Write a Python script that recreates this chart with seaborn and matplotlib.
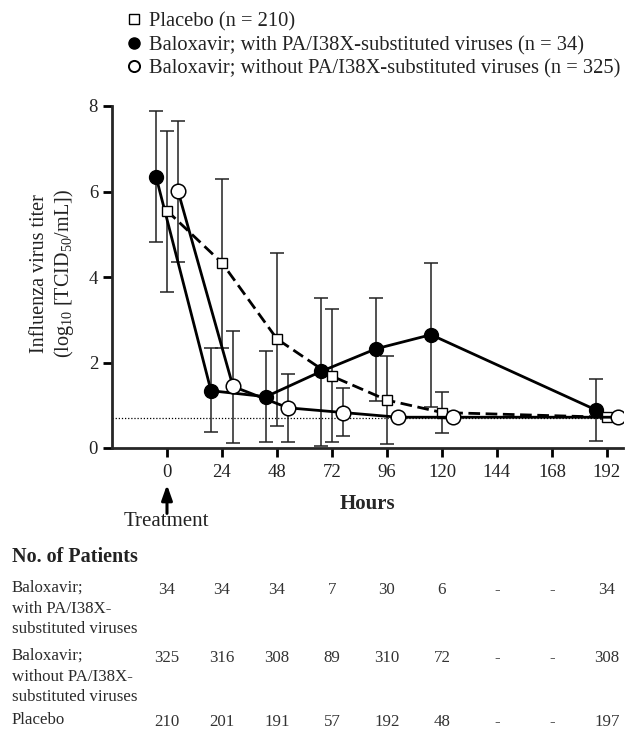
#!/usr/bin/env python3

import matplotlib
matplotlib.use("Agg")
import matplotlib.pyplot as plt
import matplotlib.transforms as mtransforms
from matplotlib.lines import Line2D
import pandas as pd
import seaborn as sns
from typing import List


# virus titer by time point
hours: List[float] = [0, 24, 48, 72, 96, 120, 192]

placebo_mean: List[float] = [5.55, 4.33, 2.55, 1.68, 1.12, 0.83, 0.72]
placebo_lo: List[float] = [3.64, 2.34, 0.52, 0.13, 0.10, 0.35, 0.67]
placebo_hi: List[float] = [7.41, 6.30, 4.57, 3.24, 2.15, 1.30, 0.77]

with_mean: List[float] = [6.35, 1.34, 1.20, 1.79, 2.32, 2.65, 0.89]
with_lo: List[float] = [4.83, 0.37, 0.15, 0.05, 1.10, 0.97, 0.17]
with_hi: List[float] = [7.88, 2.34, 2.26, 3.50, 3.51, 4.32, 1.62]

without_mean: List[float] = [6.01, 1.44, 0.94, 0.83, 0.72, 0.72, 0.72]
without_lo: List[float] = [4.35, 0.12, 0.15, 0.27, 0.70, 0.70, 0.70]
without_hi: List[float] = [7.65, 2.73, 1.73, 1.40, 0.74, 0.74, 0.74]

lloq: float = 0.7

# no. of patients table
table_hours: List[int] = [0, 24, 48, 72, 96, 120, 144, 168, 192]
n_with: List[str] = ["34", "34", "34", "7", "30", "6", "-", "-", "34"]
n_without: List[str] = ["325", "316", "308", "89", "310", "72", "-", "-", "308"]
n_placebo: List[str] = ["210", "201", "191", "57", "192", "48", "-", "-", "197"]
row_labels: List[str] = [
    "Baloxavir;\nwith PA/I38X-\nsubstituted viruses",
    "Baloxavir;\nwithout PA/I38X-\nsubstituted viruses",
    "Placebo",
]

legend_labels: List[str] = [
    "Placebo (n = 210)",
    "Baloxavir; with PA/I38X-substituted viruses (n = 34)",
    "Baloxavir; without PA/I38X-substituted viruses (n = 325)",
]

sns.set_style("ticks")
plt.rcParams["font.family"] = ["Liberation Serif", "DejaVu Serif"]
plt.rcParams["mathtext.fontset"] = "custom"
plt.rcParams["mathtext.rm"] = "Liberation Serif"

fig = plt.figure(figsize=(6.33, 7.30), dpi=100)
ax = fig.add_axes([112 / 633, 1 - 448 / 730, (623 - 112) / 633, (448 - 106) / 730])

dodge = 4.8  # hours the two baloxavir groups are shifted sideways
groups = [
    ("placebo", 0.0, placebo_mean, placebo_lo, placebo_hi),
    ("with", -dodge, with_mean, with_lo, with_hi),
    ("without", dodge, without_mean, without_lo, without_hi),
]
frames = []
for name, off, m, lo, hi in groups:
    frames.append(pd.DataFrame({
        "group": name,
        "x": [h + off for h in hours],
        "titer": m, "lo": lo, "hi": hi,
    }))
df = pd.concat(frames, ignore_index=True)

ax.axhline(lloq, color="black", lw=0.9, ls=(0, (1, 1.5)), zorder=1)

for name, off, m, lo, hi in groups:
    d = df[df["group"] == name]
    ax.errorbar(d["x"], d["titer"], yerr=[d["titer"] - d["lo"], d["hi"] - d["titer"]],
                fmt="none", ecolor="#222222", elinewidth=1.1, capsize=4.8, capthick=1.1, zorder=2)

styles = {
    "placebo": dict(marker="s", markersize=7.5, markerfacecolor="white", markeredgecolor="black",
                    markeredgewidth=1.0, linestyle=(0, (4.2, 2.0)), zorder=4),
    "with": dict(marker="o", markersize=10, markerfacecolor="black", markeredgecolor="black",
                 markeredgewidth=1.0, linestyle="-", zorder=3),
    "without": dict(marker="o", markersize=10.5, markerfacecolor="white", markeredgecolor="black",
                    markeredgewidth=1.1, linestyle="-", zorder=5),
}
for name in ["placebo", "with", "without"]:
    d = df[df["group"] == name]
    st = styles[name]
    sns.lineplot(data=d, x="x", y="titer", ax=ax, color="black", linewidth=2.0,
                 estimator=None, sort=False, legend=False, **st)

ax.set_xlim(-24, 199)
ax.set_ylim(0, 8)
ax.set_xticks(table_hours)
ax.set_yticks([0, 2, 4, 6, 8])
ax.tick_params(axis="both", labelsize=13.5, width=2, length=6.5, color="black", colors="#222222")
ax.tick_params(axis="x", pad=5)
ax.tick_params(axis="y", pad=3.5)
for s in ["top", "right"]:
    ax.spines[s].set_visible(False)
for s in ["left", "bottom"]:
    ax.spines[s].set_linewidth(2)
ax.set_xlabel("Hours", fontsize=15, fontweight="bold")
ax.xaxis.set_label_coords(0.499, -0.135)
ax.set_ylabel("Influenza virus titer\n(log$_{10}$ [TCID$_{50}$/mL])", fontsize=14.5,
              linespacing=1.15, color="#222222")
ax.yaxis.set_label_coords(-0.071, 0.51)

# treatment arrow
ax.annotate("", xy=(0, -0.86), xytext=(0, -1.53), xycoords="data", annotation_clip=False,
            arrowprops=dict(arrowstyle="-|>,head_width=0.32,head_length=0.9", color="black",
                            lw=2.2, shrinkA=0, shrinkB=0))
fig.text(166 / 633, 1 - 522 / 730, "Treatment", fontsize=15, ha="center", va="center",
         color="#222222")

# legend on top
handles = [
    Line2D([], [], marker="s", ls="none", markersize=7, markerfacecolor="white",
           markeredgecolor="black", markeredgewidth=1.0),
    Line2D([], [], marker="o", ls="none", markersize=8, markerfacecolor="black",
           markeredgecolor="black"),
    Line2D([], [], marker="o", ls="none", markersize=8, markerfacecolor="white",
           markeredgecolor="black", markeredgewidth=1.4),
]
fig.legend(handles, legend_labels, loc="upper left", bbox_to_anchor=(120 / 633, 1 - 4 / 730),
           frameon=False, fontsize=14.8, handlelength=0.6, handletextpad=0.42,
           labelspacing=0.2, borderaxespad=0, labelcolor="#222222")

# no. of patients table
fig.text(12 / 633, 1 - 557 / 730, "No. of Patients", fontsize=14.5, fontweight="bold",
         ha="left", va="center", color="#222222")
trans = mtransforms.blended_transform_factory(ax.transData, fig.transFigure)
row_y = [590, 658, 722]
for label, counts, y in zip(row_labels, [n_with, n_without, n_placebo], row_y):
    fig.text(12 / 633, 1 - (y - 10) / 730, label, fontsize=12.2, ha="left", va="top",
             linespacing=1.38, color="#2a2a2a")
    for h, c in zip(table_hours, counts):
        ax.text(h, 1 - y / 730, c, transform=trans, fontsize=12.2, ha="center",
                va="center", color="#333333")

fig.savefig("out.png", dpi=100)
